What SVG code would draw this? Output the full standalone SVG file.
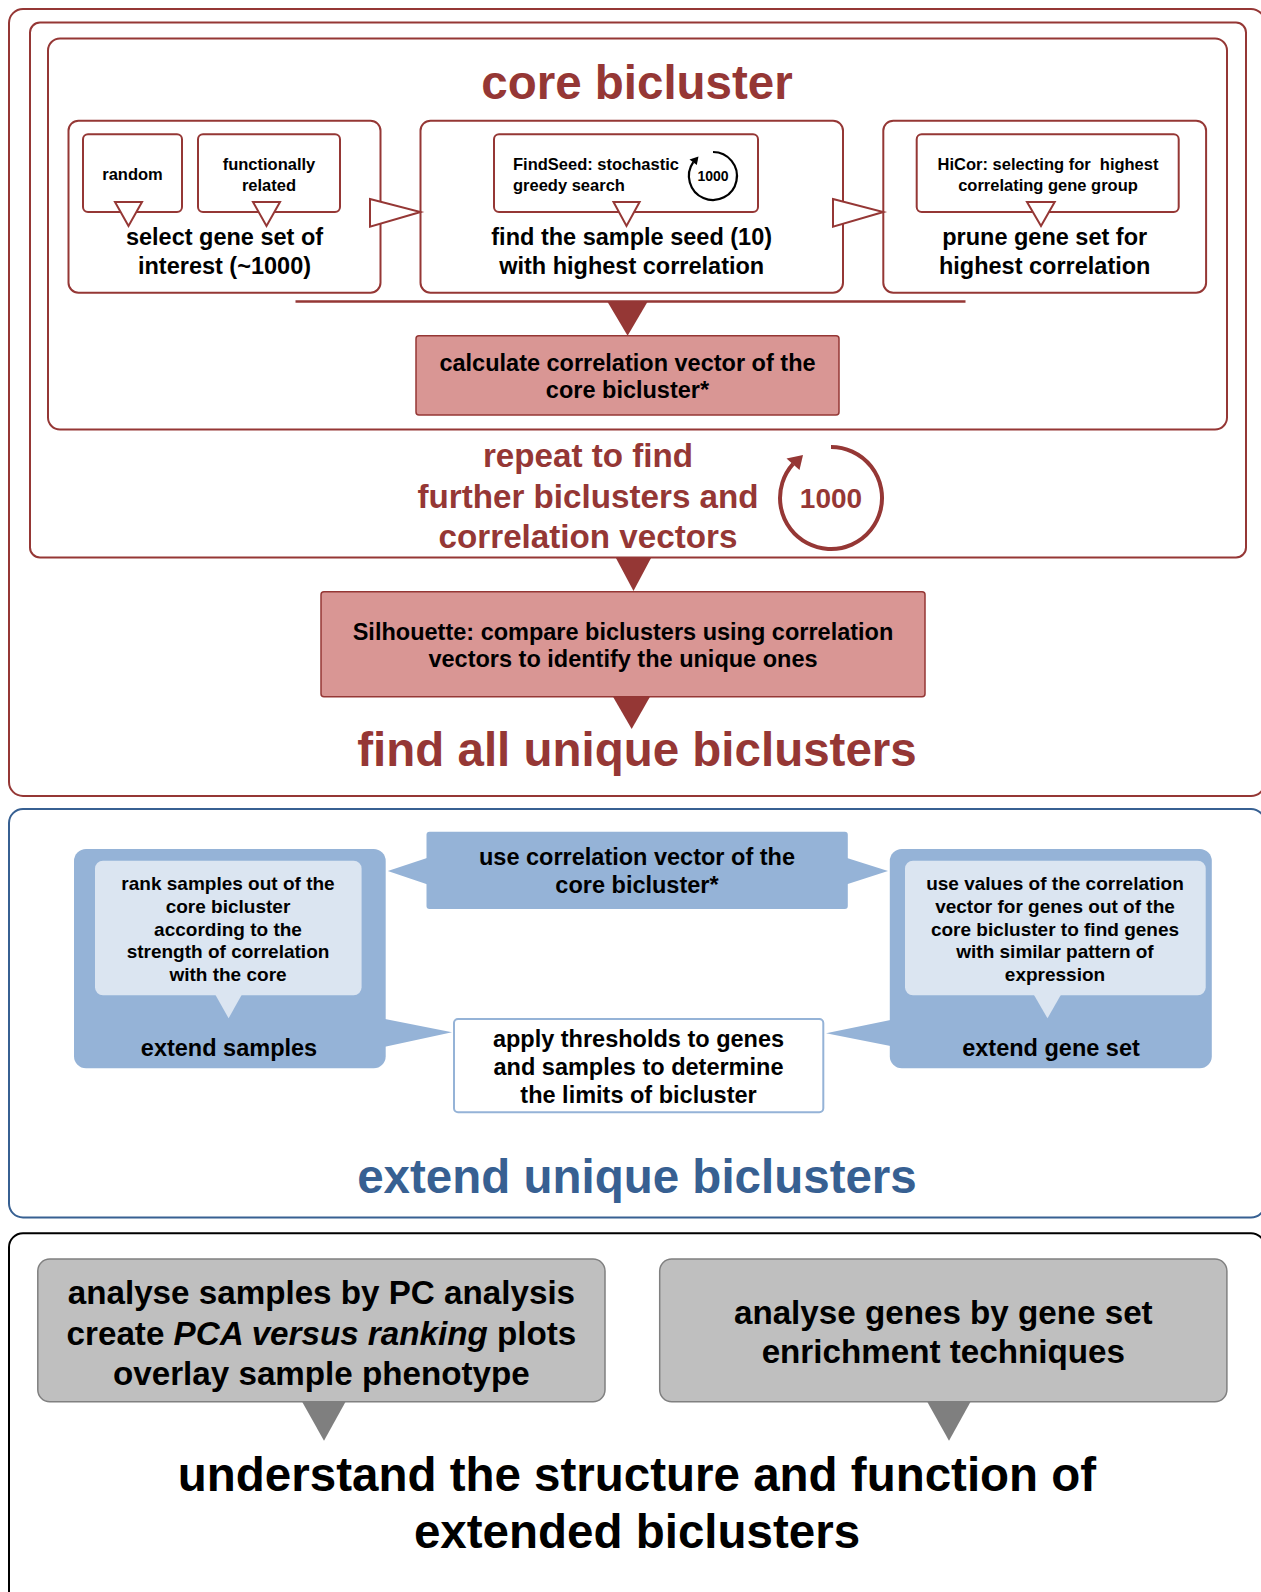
<svg xmlns="http://www.w3.org/2000/svg" width="1261" height="1592" viewBox="0 0 1261 1592">
<style>
text{font-family:"Liberation Sans",Arial,Helvetica,sans-serif;font-weight:bold;text-anchor:middle;fill:#000}
.red{fill:#953735}
.blue{fill:#376092}
.big{font-size:47.5px}
.mid{font-size:23.5px}
.sm{font-size:16.5px}
.xs{font-size:19px}
.lg{font-size:33.2px}
.box{fill:#fff;stroke:#953735;stroke-width:2}
.pink{fill:#d99694;stroke:#953735;stroke-width:1.5}
.hollow{fill:#fff;stroke:#953735;stroke-width:2}
.solidR{fill:#953735}
.bl{fill:#95b3d7}
.bll{fill:#dbe5f1}
.gray{fill:#bfbfbf;stroke:#808080;stroke-width:1.5}
</style>

<g id="frame-find-all">
<rect x="9" y="9" width="1256" height="787" rx="14" fill="#fff" stroke="#953735" stroke-width="2"/>
</g>
<g id="frame-repeat">
<rect x="30" y="22.5" width="1216" height="535" rx="10" fill="#fff" stroke="#953735" stroke-width="2"/>
</g>
<g id="frame-core">
<rect x="48" y="38.5" width="1179" height="391" rx="12" fill="#fff" stroke="#953735" stroke-width="2"/>
<text class="red big" x="637" y="98.5">core bicluster</text>
</g>

<g id="node-select">
<rect class="box" x="68.5" y="120.7" width="312" height="172" rx="10"/>
<text class="mid" x="224.5" y="244.5">select gene set of</text>
<text class="mid" x="224.5" y="273.5">interest (~1000)</text>
</g>
<g id="node-random">
<rect class="box" x="83" y="134.3" width="99" height="77.7" rx="5"/>
<text class="sm" x="132.5" y="179.5">random</text>
</g>
<g id="node-functional">
<rect class="box" x="198" y="134.3" width="142" height="77.7" rx="5"/>
<text class="sm" x="269" y="170">functionally</text>
<text class="sm" x="269" y="190.7">related</text>
</g>

<g id="node-findseed-step">
<rect class="box" x="420.5" y="120.7" width="422.5" height="172" rx="10"/>
<text class="mid" x="631.7" y="244.5">find the sample seed (10)</text>
<text class="mid" x="631.7" y="273.5">with highest correlation</text>
</g>
<g id="node-findseed">
<rect class="box" x="494" y="134.3" width="264" height="77.7" rx="5"/>
<text class="sm" x="513" y="170" style="text-anchor:start">FindSeed: stochastic</text>
<text class="sm" x="513" y="190.7" style="text-anchor:start">greedy search</text>
<path d="M713 152 A24 24 0 1 1 693.3 162.2" fill="none" stroke="#000" stroke-width="2.2"/>
<polygon points="698.5,156.6 689.5,159.5 696.8,165" fill="#000"/>
<text x="713" y="181" style="font-size:14px">1000</text>
</g>

<g id="node-prune">
<rect class="box" x="883.3" y="120.7" width="322.8" height="172" rx="10"/>
<text class="mid" x="1044.7" y="244.5">prune gene set for</text>
<text class="mid" x="1044.7" y="273.5">highest correlation</text>
</g>
<g id="node-hicor">
<rect class="box" x="916.7" y="134.3" width="262" height="77.7" rx="5"/>
<text class="sm" x="1048" y="170" xml:space="preserve">HiCor: selecting for  highest</text>
<text class="sm" x="1048" y="190.7">correlating gene group</text>
</g>

<g id="node-calc">
<rect class="pink" x="416" y="335.7" width="423" height="79.3" rx="3"/>
<text class="mid" x="627.5" y="370.5">calculate correlation vector of the</text>
<text class="mid" x="627.5" y="398.3">core bicluster*</text>
</g>

<g id="node-repeat">
<text class="red lg" x="588" y="466.5">repeat to find</text>
<text class="red lg" x="588" y="507.5">further biclusters and</text>
<text class="red lg" x="588" y="547.5">correlation vectors</text>
<path d="M831 447 A51 51 0 1 1 793.1 463.9" fill="none" stroke="#953735" stroke-width="4"/>
<polygon points="803,455 786.5,458.5 799.5,470" fill="#953735"/>
<text class="red" x="831" y="508.3" style="font-size:28px">1000</text>
</g>

<g id="node-silhouette">
<rect class="pink" x="321" y="591.7" width="604" height="105" rx="3"/>
<text class="mid" x="623" y="639.5">Silhouette: compare biclusters using correlation</text>
<text class="mid" x="623" y="667">vectors to identify the unique ones</text>
</g>

<g id="node-find-all">
<text class="red big" x="637" y="765.5">find all unique biclusters</text>
</g>

<g id="frame-extend">
<rect x="9" y="809" width="1256" height="408.5" rx="14" fill="#fff" stroke="#376092" stroke-width="2"/>
<text class="blue big" x="637" y="1192.5">extend unique biclusters</text>
</g>

<g id="node-use-vector">
<rect class="bl" x="426.5" y="831.7" width="421.3" height="77.3" rx="3"/>
<text class="mid" x="637" y="865">use correlation vector of the</text>
<text class="mid" x="637" y="893">core bicluster*</text>
</g>

<g id="node-extend-samples">
<rect class="bl" x="74" y="849" width="311.7" height="219.3" rx="12"/>
<rect class="bll" x="95" y="860.7" width="266.6" height="134.6" rx="8"/>
<polygon class="bll" points="215.5,995 241.6,995 228.6,1018.3"/>
<text class="xs" x="228" y="890">rank samples out of the</text>
<text class="xs" x="228" y="912.8">core bicluster</text>
<text class="xs" x="228" y="935.6">according to the</text>
<text class="xs" x="228" y="958.4">strength of correlation</text>
<text class="xs" x="228" y="981.2">with the core</text>
<text class="mid" x="229" y="1055.5">extend samples</text>
</g>

<g id="node-extend-genes">
<rect class="bl" x="889.8" y="849" width="322" height="219.3" rx="12"/>
<rect class="bll" x="905" y="860.7" width="300.7" height="134.6" rx="8"/>
<polygon class="bll" points="1034,995 1060.8,995 1047.5,1018.3"/>
<text class="xs" x="1055" y="890">use values of the correlation</text>
<text class="xs" x="1055" y="912.8">vector for genes out of the</text>
<text class="xs" x="1055" y="935.6">core bicluster to find genes</text>
<text class="xs" x="1055" y="958.4">with similar pattern of</text>
<text class="xs" x="1055" y="981.2">expression</text>
<text class="mid" x="1051" y="1055.5">extend gene set</text>
</g>

<g id="node-apply">
<rect x="454" y="1019" width="369.3" height="93.3" rx="4" fill="#fff" stroke="#95b3d7" stroke-width="2"/>
<text class="mid" x="638.5" y="1046.5">apply thresholds to genes</text>
<text class="mid" x="638.5" y="1074.5">and samples to determine</text>
<text class="mid" x="638.5" y="1102.5">the limits of bicluster</text>
</g>

<g id="frame-understand">
<rect x="9" y="1233.3" width="1256" height="380" rx="14" fill="#fff" stroke="#000" stroke-width="2"/>
</g>
<g id="node-analyse-samples">
<rect class="gray" x="37.8" y="1259" width="567.2" height="142.7" rx="12"/>
<text class="lg" x="321.4" y="1304">analyse samples by PC analysis</text>
<text class="lg" x="321.4" y="1344.5">create <tspan font-style="italic">PCA versus ranking</tspan> plots</text>
<text class="lg" x="321.4" y="1384.5">overlay sample phenotype</text>
</g>
<g id="node-analyse-genes">
<rect class="gray" x="659.7" y="1259" width="567.2" height="142.7" rx="12"/>
<text class="lg" x="943.3" y="1323.5">analyse genes by gene set</text>
<text class="lg" x="943.3" y="1363">enrichment techniques</text>
</g>
<g id="node-understand">
<text class="big" x="637" y="1491">understand the structure and function of</text>
<text class="big" x="637" y="1548">extended biclusters</text>
</g>

<g id="connectors">
<polygon class="hollow" points="115,202 142,202 128.5,226"/>
<polygon class="hollow" points="253,202 280,202 266.5,226"/>
<polygon class="hollow" points="613.5,202 639.6,202 626.5,226"/>
<polygon class="hollow" points="1027,202 1054.7,202 1041,226"/>
<polygon class="hollow" points="370,199 420.5,212 370,226.7"/>
<polygon class="hollow" points="833,199 883.3,212 833,226.7"/>
<line x1="295.5" y1="301.6" x2="965.5" y2="301.6" stroke="#953735" stroke-width="2.5"/>
<polygon class="solidR" points="607,301 648,301 627.6,335.7"/>
<polygon class="solidR" points="615.4,557 651.6,557 633.5,591"/>
<polygon class="solidR" points="613,696.7 650,696.7 631.7,729"/>
<polygon class="bl" points="427,858 387.8,871 427,884.3"/>
<polygon class="bl" points="847,858 888,871 847,884.3"/>
<polygon class="bl" points="385,1019 452,1032.3 385,1046.7"/>
<polygon class="bl" points="890.5,1020 826,1033.3 890.5,1046"/>
<polygon points="301.7,1401 346,1401 324,1440.7" fill="#7f7f7f"/>
<polygon points="926.8,1401 971,1401 949,1440.7" fill="#7f7f7f"/>
</g>
</svg>
